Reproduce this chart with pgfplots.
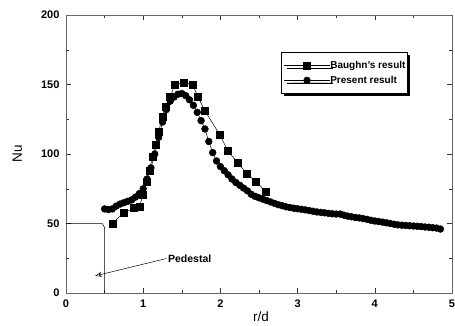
\documentclass[border=0pt]{standalone}
\usepackage{pgfplots}
\pgfplotsset{compat=1.18}
\usepackage{fontspec}
\setmainfont{Liberation Sans}
\usetikzlibrary{shadows,arrows.meta}
\pgfplotstableread{
x y
0.60 50
0.75 58
0.88 61
0.95 62
1.00 71
1.04 80
1.08 88
1.12 98
1.16 107
1.20 116
1.25 127
1.29 134
1.35 141
1.41 150
1.53 151.5
1.64 150
1.71 141
1.80 131
1.99 114
2.10 102
2.22 94
2.34 86
2.46 80
2.59 73
}\baughn
\pgfplotstableread{
x y
0.50 60.5
0.55 60
0.60 60.5
0.65 62.5
0.70 64
0.75 65
0.80 66
0.85 67
0.90 69
0.95 71.5
1.00 75
1.05 82
1.10 90
1.15 100
1.20 112
1.25 123
1.30 132
1.35 138
1.40 141
1.45 143
1.50 143.5
1.55 142
1.60 139
1.65 135
1.70 130
1.75 124
1.80 118
1.85 109
1.90 101
1.95 95
2.00 91
2.05 88
2.10 85
2.15 82
2.20 79.5
2.25 77.5
2.30 75.5
2.35 73.5
2.40 71
2.45 69.5
2.50 68.5
2.55 67.5
2.60 66.5
2.65 65.5
2.70 64.5
2.75 63.5
2.80 62.8
2.85 62
2.90 61.5
2.95 61
3.00 60.6
3.05 60.2
3.10 59.8
3.15 59.3
3.20 58.8
3.25 58.3
3.30 58
3.35 57.7
3.40 57.3
3.45 57
3.50 56.8
3.55 56.8
3.60 56
3.65 55.3
3.70 54.8
3.75 54.3
3.80 54
3.85 53.5
3.90 53
3.95 52.3
4.00 51.8
4.05 51.4
4.10 51
4.15 50.5
4.20 50
4.25 49.5
4.30 49
4.35 48.8
4.40 48.6
4.45 48.4
4.50 48.2
4.55 48
4.60 47.8
4.65 47.5
4.70 47.3
4.75 47
4.80 46.7
4.85 46
}\present
\begin{document}
\begin{tikzpicture}
\begin{axis}[
  scale only axis,
  width=386pt, height=278pt,
  xmin=0, xmax=5, ymin=0, ymax=200,
  xtick={0,1,2,3,4,5}, ytick={0,50,100,150,200},
  minor xtick={0.5,1.5,2.5,3.5,4.5},
  minor ytick={25,75,125,175},
  tick align=inside,
  major tick length=5pt, minor tick length=3pt,
  tick style={black!80, line width=0.4pt},
  axis line style={black!60, line width=0.5pt},
  /pgf/number format/assume math mode=true,
  ticklabel style={font=\fontsize{11}{13}\selectfont\bfseries},
  xticklabel style={yshift=-3pt},
  yticklabel style={xshift=-3pt},
  xlabel={r/d}, ylabel={Nu},
  every axis x label/.style={at={(axis description cs:0.505,0)}, anchor=center, yshift=-24pt, font=\fontsize{13.5}{15}\selectfont},
  every axis y label/.style={at={(axis description cs:-0.126,0.5)}, anchor=center, rotate=90, font=\fontsize{13.5}{15}\selectfont},
  legend style={at={(axis cs:2.79,173.5)}, anchor=north west, draw=black, line width=0.8pt,
    fill=white, font=\fontsize{10}{12}\selectfont\bfseries,
    drop shadow={fill=black, opacity=1, shadow xshift=2.5pt, shadow yshift=-2.5pt},
    row sep=2pt, inner xsep=2pt, inner ysep=7pt,
    nodes={inner xsep=0pt}},
  legend cell align=left,
  legend image code/.code={%
    \path (0pt,0pt) -- (46pt,0pt);
    \draw[#1, line width=0.5pt] (6pt,0pt) -- (40pt,0pt);
    \draw[#1, line width=0.5pt] plot coordinates {(23pt,0pt)};},
]
\addplot[black, line width=0.5pt, forget plot] coordinates {(0,50) (0.47,50) (0.5,47) (0.5,0)};
\addplot[black, line width=0.5pt, mark=square*, mark size=3.5pt, mark options={solid}] table[x=x,y=y] {\baughn};
\addlegendentry{Baughn's result}
\addplot[black, line width=0.5pt, mark=*, mark size=3.4pt] table[x=x,y=y] {\present};
\addlegendentry{Present result}
\draw[line width=0.5pt, -{Stealth[open,length=7pt,width=5pt]}] (axis cs:1.30,24.8) -- (axis cs:0.376,12.3);
\node[anchor=west, inner sep=0pt, font=\fontsize{10.5}{12}\selectfont\bfseries] at (axis cs:1.32,25) {Pedestal};
\end{axis}
\pgfresetboundingbox
\path (-66pt,-32pt) rectangle (389pt,293pt);
\end{tikzpicture}
\end{document}
